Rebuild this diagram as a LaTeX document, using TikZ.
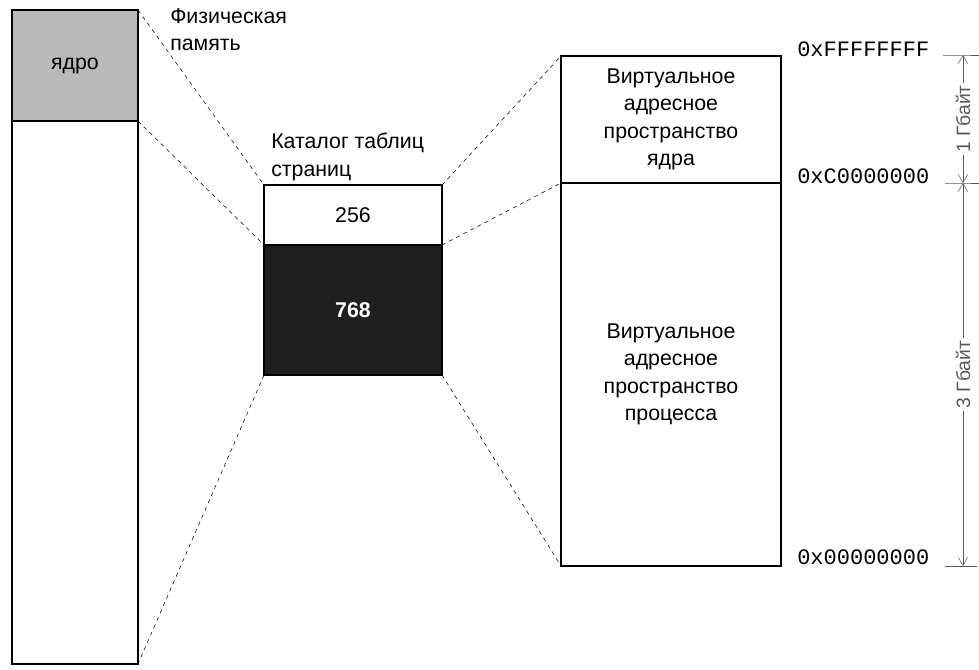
\documentclass[tikz,border=0pt]{standalone}
\usepackage{fontspec}
\setmainfont{Liberation Sans}
\setmonofont{Liberation Mono}
\usetikzlibrary{positioning,arrows.meta}
\definecolor{kerngray}{RGB}{185, 185, 185}
\definecolor{dimgray}{RGB}{90, 90, 90}

\tikzset{
  membox/.style={draw, line width=1.1pt, inner sep=0pt, outer sep=0pt, anchor=north west, align=center},
  maplink/.style={dashed, thin},
  addrlbl/.style={font=\ttfamily\fontsize{16.5}{20}\selectfont, anchor=base west, inner sep=0pt},
  dimline/.style={dimgray, thin, {Straight Barb[length=6pt,width=7pt]}-{Straight Barb[length=6pt,width=7pt]}},
  ticklink/.style={dimgray, thin},
  sizelbl/.style={fill=white, rotate=90, inner sep=2pt, font=\fontsize{14.5}{16}\selectfont}
}

\begin{document}
\fontsize{16}{20.5}\selectfont
\begin{tikzpicture}[x=0.75pt, y=-0.75pt]
\useasboundingbox (0,0) rectangle (979,669);
% physical memory
\node[membox, fill=kerngray, minimum width=94.5pt, minimum height=83.25pt] (kern) at (12,10) {ядро};
\node[membox, minimum width=94.5pt, minimum height=407.25pt] (phys) at (kern.south west) {};
\node[anchor=north west, align=left, inner sep=0pt] (physlbl) at (170,8) {Физическая\\память};
% page directory
\node[membox, minimum width=133.5pt, minimum height=45pt] (c256) at (264,185) {256};
\node[membox, fill=black!88, text=white, font=\bfseries, minimum width=133.5pt, minimum height=97.5pt] (c768) at (c256.south west) {\raisebox{-12pt}{768}};
\node[anchor=south west, align=left, inner sep=0pt] (catlbl) at (271,181) {Каталог таблиц\\страниц};
% virtual space
\node[membox, minimum width=165pt, minimum height=95.25pt] (vkern) at (561,56) {Виртуальное\\адресное\\пространство\\ядра};
\node[membox, minimum width=165pt, minimum height=287.25pt] (vproc) at (vkern.south west) {Виртуальное\\адресное\\пространство\\процесса};
% mapping lines
\draw[maplink] (kern.north east) -- (c256.north west);
\draw[maplink] (kern.south east) -- (c768.north west);
\draw[maplink] (c768.south west) -- (phys.south east);
\draw[maplink] (c256.north east) -- (vkern.north west);
\draw[maplink] (c768.north east) -- (vkern.south west);
\draw[maplink] (c768.south east) -- (vproc.south west);
% addresses
\node[addrlbl] (aF) at (797,56) {0xFFFFFFFF};
\node[addrlbl] (aC) at (797,183) {0xC0000000};
\node[addrlbl] (a0) at (797,564) {0x00000000};
\coordinate (dF) at (963,55);
\coordinate (dC) at (963,183);
\coordinate (d0) at (963,566);
\draw[ticklink] (943,55) -- (dF) -- (979,55);
\draw[ticklink] (945,183) -- (dC) -- (979,183);
\draw[ticklink] (945,566) -- (d0) -- (977,566);
\draw[dimline] (dF) -- node[sizelbl] (s1) {1 Гбайт} (dC);
\draw[dimline] (dC) -- node[sizelbl] (s3) {3 Гбайт} (d0);
\end{tikzpicture}
\end{document}
